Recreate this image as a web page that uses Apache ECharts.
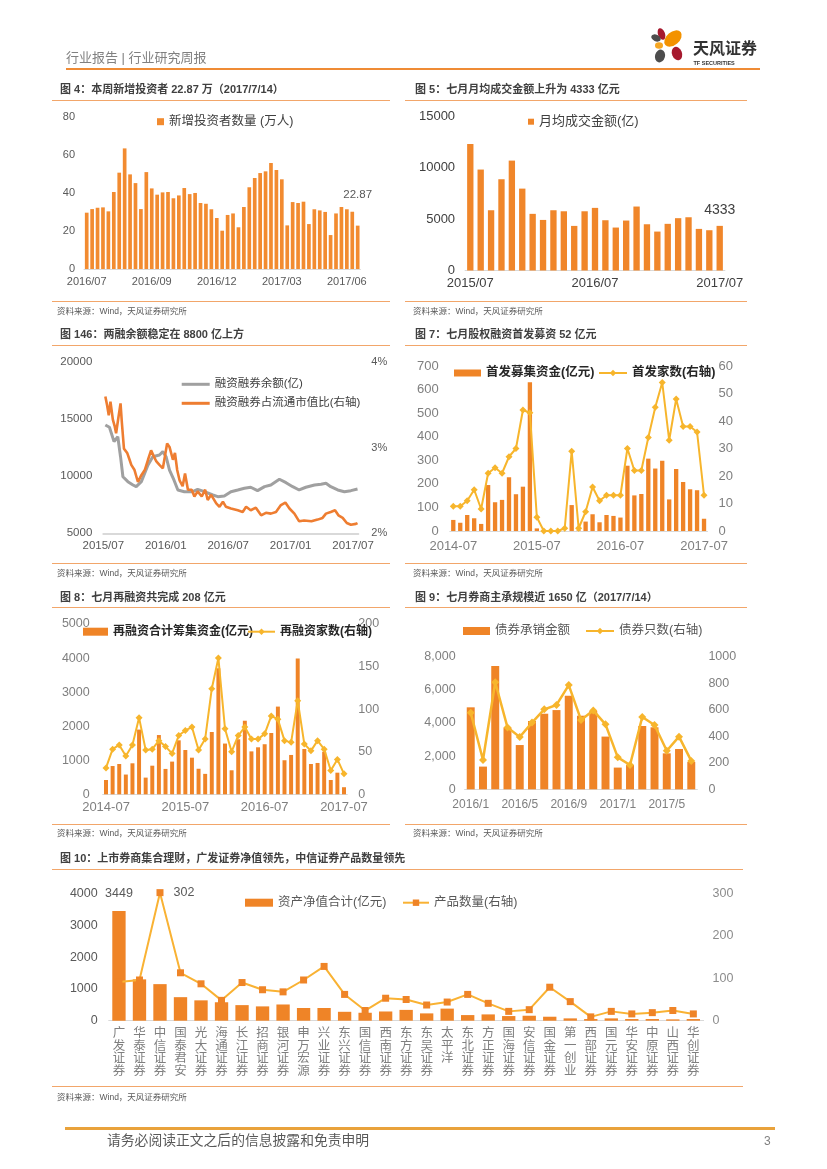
<!DOCTYPE html>
<html><head><meta charset="utf-8">
<script src="https://cdn.jsdelivr.net/npm/echarts@6/dist/echarts.min.js"></script>
<style>
html,body{margin:0;padding:0;background:#fff;}
#page{position:relative;width:827px;height:1169px;overflow:hidden;font-family:"Liberation Sans","Noto Sans CJK SC",sans-serif;}
#chart{position:absolute;left:0;top:0;width:827px;height:1169px;}
.t{position:absolute;white-space:nowrap;}
.ttl{font-size:11px;font-weight:bold;color:#404040;line-height:12px;}
.src{font-size:8.5px;color:#595959;line-height:11px;}
.hl{position:absolute;height:1px;background:#F2A66A;}
</style></head>
<body><div id="page">
<div id="chart"></div>

<div class="t" style="left:66px;top:49.5px;font-size:13px;line-height:15px;color:#808080;">行业报告 | 行业研究周报</div>
<div style="position:absolute;left:66px;top:68px;width:694px;height:2px;background:#EF8B35;"></div>
<svg style="position:absolute;left:646px;top:24px;" width="48" height="46" viewBox="0 0 48 46">
  <ellipse cx="15.5" cy="10" rx="3.5" ry="6" fill="#A6192E" transform="rotate(-20 15.5 10)"/>
  <ellipse cx="10" cy="14" rx="5" ry="3.3" fill="#4D4D4D" transform="rotate(25 10 14)"/>
  <ellipse cx="27" cy="14.5" rx="10" ry="6.5" fill="#F39200" transform="rotate(-40 27 14.5)"/>
  <ellipse cx="13" cy="21.5" rx="4" ry="3.3" fill="#F5A623"/>
  <ellipse cx="31" cy="29.5" rx="5" ry="7" fill="#A6192E" transform="rotate(-20 31 29.5)"/>
  <ellipse cx="14" cy="32" rx="5" ry="6.5" fill="#4D4D4D" transform="rotate(15 14 32)"/>
</svg>
<div class="t" style="left:693px;top:38px;font-size:16px;line-height:18px;font-weight:bold;color:#333;font-family:'Noto Sans CJK SC',sans-serif;">天风证券</div>
<div class="t" style="left:693.5px;top:60px;font-size:5.5px;line-height:6px;font-weight:bold;color:#333;">TF SECURITIES</div>

<div class="t ttl" style="left:60px;top:83px;">图 4：本周新增投资者 22.87 万（2017/7/14）</div>
<div class="t ttl" style="left:415px;top:83px;">图 5：七月月均成交金额上升为 4333 亿元</div>
<div class="hl" style="left:52px;top:100px;width:338px;"></div>
<div class="hl" style="left:405px;top:100px;width:342px;"></div>
<div class="hl" style="left:52px;top:301px;width:338px;"></div>
<div class="hl" style="left:405px;top:301px;width:342px;"></div>
<div class="t src" style="left:57px;top:305.5px;">资料来源：Wind，天风证券研究所</div>
<div class="t src" style="left:413px;top:305.5px;">资料来源：Wind，天风证券研究所</div>

<div class="t ttl" style="left:60px;top:328px;">图 146：两融余额稳定在 8800 亿上方</div>
<div class="t ttl" style="left:415px;top:328px;">图 7：七月股权融资首发募资 52 亿元</div>
<div class="hl" style="left:52px;top:344.5px;width:338px;"></div>
<div class="hl" style="left:405px;top:344.5px;width:342px;"></div>
<div class="hl" style="left:52px;top:562.5px;width:338px;"></div>
<div class="hl" style="left:405px;top:562.5px;width:342px;"></div>
<div class="t src" style="left:57px;top:568px;">资料来源：Wind，天风证券研究所</div>
<div class="t src" style="left:413px;top:568px;">资料来源：Wind，天风证券研究所</div>

<div class="t ttl" style="left:60px;top:590.5px;">图 8：七月再融资共完成 208 亿元</div>
<div class="t ttl" style="left:415px;top:590.5px;">图 9：七月券商主承规模近 1650 亿（2017/7/14）</div>
<div class="hl" style="left:52px;top:607px;width:338px;"></div>
<div class="hl" style="left:405px;top:607px;width:342px;"></div>
<div class="hl" style="left:52px;top:824px;width:338px;"></div>
<div class="hl" style="left:405px;top:824px;width:342px;"></div>
<div class="t src" style="left:57px;top:828px;">资料来源：Wind，天风证券研究所</div>
<div class="t src" style="left:413px;top:828px;">资料来源：Wind，天风证券研究所</div>

<div class="t ttl" style="left:60px;top:852px;">图 10：上市券商集合理财，广发证券净值领先，中信证券产品数量领先</div>
<div class="hl" style="left:52px;top:869px;width:691px;"></div>
<div class="hl" style="left:52px;top:1085.5px;width:691px;"></div>
<div class="t src" style="left:57px;top:1092px;">资料来源：Wind，天风证券研究所</div>

<div style="position:absolute;left:65px;top:1127px;width:710px;height:2.5px;background:#E9A23B;"></div>
<div class="t" style="left:107px;top:1133px;font-size:13.8px;line-height:16px;color:#595959;">请务必阅读正文之后的信息披露和免责申明</div>
<div class="t" style="left:764px;top:1134px;font-size:12px;line-height:14px;color:#808080;">3</div>
</div>

<script>
// ---------- 图4 新增投资者 ----------
const investorWeeks = ['2016/07/01','2016/07/08','2016/07/15','2016/07/22','2016/07/29','2016/08/05','2016/08/12','2016/08/19','2016/08/26','2016/09/02','2016/09/09','2016/09/16','2016/09/23','2016/09/30','2016/10/07','2016/10/14','2016/10/21','2016/10/28','2016/11/04','2016/11/11','2016/11/18','2016/11/25','2016/12/02','2016/12/09','2016/12/16','2016/12/23','2016/12/30','2017/01/06','2017/01/13','2017/01/20','2017/01/27','2017/02/03','2017/02/10','2017/02/17','2017/02/24','2017/03/03','2017/03/10','2017/03/17','2017/03/24','2017/03/31','2017/04/07','2017/04/14','2017/04/21','2017/04/28','2017/05/05','2017/05/12','2017/05/19','2017/05/26','2017/06/02','2017/06/09','2017/06/16'];
const investorNew = [29.7,31.6,32.3,32.5,30.4,40.6,50.8,63.6,49.9,45.3,31.6,51.1,42.5,39.2,40.4,40.6,37.3,38.8,42.7,39.5,40.1,34.8,34.4,31.5,26.9,20.2,28.5,29.3,22.0,32.7,43.1,48.0,50.6,51.5,55.9,52.2,47.3,23.0,35.3,34.8,35.5,23.7,31.5,30.9,30.1,17.9,29.3,32.7,31.5,30.2,22.87];

// ---------- 图5 月均成交金额 ----------
const turnoverMonths = ['2015/07','2015/08','2015/09','2015/10','2015/11','2015/12','2016/01','2016/02','2016/03','2016/04','2016/05','2016/06','2016/07','2016/08','2016/09','2016/10','2016/11','2016/12','2017/01','2017/02','2017/03','2017/04','2017/05','2017/06','2017/07'];
const turnoverAvg = [12280,9800,5850,8860,10670,7950,5500,4910,5850,5750,4330,5750,6080,4880,4170,4850,6210,4490,3780,4530,5080,5170,4040,3910,4333];

// ---------- 图146 两融 ----------
const marginDates = ['2015-07-07','2015-07-19','2015-08-02','2015-08-13','2015-08-21','2015-08-28','2015-09-12','2015-09-27','2015-10-06','2015-10-21','2015-11-10','2015-11-24','2015-12-13','2015-12-23','2016-01-02','2016-01-12','2016-01-25','2016-02-06','2016-02-25','2016-03-19','2016-04-03','2016-04-23','2016-05-17','2016-06-01','2016-06-20','2016-07-09','2016-07-29','2016-08-18','2016-09-06','2016-09-26','2016-10-16','2016-11-04','2016-11-29','2016-12-18','2017-01-07','2017-01-26','2017-02-15','2017-03-10','2017-03-29','2017-04-13','2017-04-27','2017-05-17','2017-06-06','2017-06-25','2017-07-14'];
const marginBalance = [14500,14300,13040,13470,11720,9960,9530,9240,9090,9530,10990,11720,11870,12160,11720,10550,9680,8800,8650,8650,8860,8650,8360,8210,8270,8650,8800,8950,9040,8740,9090,9240,9740,9440,9090,8800,9040,9240,9300,9390,9090,8800,8650,8740,8890];
const ratioDates = ['2015-07-07','2015-07-12','2015-07-17','2015-07-22','2015-07-29','2015-08-04','2015-08-08','2015-08-15','2015-08-21','2015-08-25','2015-08-31','2015-09-10','2015-09-17','2015-09-22','2015-10-01','2015-10-11','2015-10-21','2015-10-31','2015-11-10','2015-11-19','2015-11-27','2015-12-04','2015-12-13','2015-12-23','2015-12-29','2016-01-05','2016-01-12','2016-01-22','2016-01-28','2016-02-04','2016-02-11','2016-02-20','2016-02-27','2016-03-05','2016-03-16','2016-03-24','2016-04-03','2016-04-15','2016-04-25','2016-05-02','2016-05-12','2016-05-27','2016-06-06','2016-06-16','2016-06-25','2016-07-09','2016-07-29','2016-08-13','2016-08-23','2016-09-06','2016-09-21','2016-10-06','2016-10-20','2016-11-04','2016-11-19','2016-12-03','2016-12-16','2016-12-28','2017-01-12','2017-01-26','2017-02-10','2017-03-01','2017-03-19','2017-04-03','2017-04-13','2017-04-27','2017-05-09','2017-05-19','2017-06-01','2017-06-13','2017-06-25','2017-07-09','2017-07-14'];
const ratioPct = [3.60,3.50,3.38,3.54,3.33,3.25,3.17,3.36,3.52,3.29,2.99,2.94,2.86,2.80,2.74,2.60,2.68,2.74,2.86,2.97,2.90,2.84,2.80,2.76,2.90,3.05,3.01,2.86,2.94,2.74,2.62,2.55,2.70,2.51,2.51,2.43,2.49,2.43,2.51,2.39,2.45,2.35,2.31,2.37,2.31,2.29,2.27,2.25,2.31,2.27,2.30,2.21,2.24,2.23,2.25,2.33,2.36,2.29,2.23,2.14,2.15,2.14,2.16,2.18,2.23,2.25,2.27,2.21,2.18,2.12,2.10,2.11,2.12];

// ---------- 图7 首发 ----------
const ipoMonths = ['2014-07','2014-08','2014-09','2014-10','2014-11','2014-12','2015-01','2015-02','2015-03','2015-04','2015-05','2015-06','2015-07','2015-08','2015-09','2015-10','2015-11','2015-12','2016-01','2016-02','2016-03','2016-04','2016-05','2016-06','2016-07','2016-08','2016-09','2016-10','2016-11','2016-12','2017-01','2017-02','2017-03','2017-04','2017-05','2017-06','2017-07'];
const ipoAmount = [47,35,68,54,30,195,122,132,228,156,188,631,11,0,0,0,0,110,3,40,71,37,68,64,57,277,151,157,307,265,298,134,263,208,177,173,52];
const ipoCount = [9,9,11,15,8,21,23,21,27,30,44,43,5,0,0,0,1,29,1,7,16,11,13,13,13,30,22,22,34,45,54,33,48,38,38,36,13];

// ---------- 图8 再融资 ----------
const refiMonths = ['2014-07','2014-08','2014-09','2014-10','2014-11','2014-12','2015-01','2015-02','2015-03','2015-04','2015-05','2015-06','2015-07','2015-08','2015-09','2015-10','2015-11','2015-12','2016-01','2016-02','2016-03','2016-04','2016-05','2016-06','2016-07','2016-08','2016-09','2016-10','2016-11','2016-12','2017-01','2017-02','2017-03','2017-04','2017-05','2017-06','2017-07'];
const refiAmount = [420,830,890,580,910,1900,490,840,1740,745,960,1585,1300,1075,750,600,1830,3700,1490,705,1615,2160,1260,1380,1470,1800,2575,1000,1155,3990,1330,890,920,1250,420,635,208];
const refiCount = [31,53,58,45,58,90,52,53,63,56,48,69,75,79,52,65,124,160,77,50,69,79,65,65,71,92,88,63,61,110,59,51,63,53,28,41,24];

// ---------- 图9 债券承销 ----------
const bondMonths = ['2016/1','2016/2','2016/3','2016/4','2016/5','2016/6','2016/7','2016/8','2016/9','2016/10','2016/11','2016/12','2017/1','2017/2','2017/3','2017/4','2017/5','2017/6','2017/7'];
const bondAmount = [4945,1370,7440,3720,2670,4120,4560,4780,5650,4440,4720,3180,1310,1470,3820,3740,2170,2430,1650];
const bondCount = [578,221,807,467,394,503,603,636,786,523,595,490,241,183,545,485,291,397,214];

// ---------- 图10 集合理财 ----------
const brokerNames = ['广发证券','华泰证券','中信证券','国泰君安','光大证券','海通证券','长江证券','招商证券','银河证券','申万宏源','兴业证券','东兴证券','国信证券','西南证券','东方证券','东吴证券','太平洋','东北证券','方正证券','国海证券','安信证券','国金证券','第一创业','西部证券','国元证券','华安证券','中原证券','山西证券','华创证券'];
const brokerNetAsset = [3449,1300,1150,740,640,580,490,450,510,400,400,280,250,290,340,230,380,177,198,146,156,125,73,52,73,52,52,42,52];
const brokerProducts = [91,96,302,113,87,48,90,73,68,96,128,62,24,53,50,37,44,62,41,22,26,79,45,9,22,16,19,24,16];

// ---------------------------------------------------------
const FF = '"Liberation Sans","Noto Sans CJK SC",sans-serif';
const ORANGE = '#EF8427';
const GOLD = '#F7B52C';
function monthOffset(d){const p=d.split('-').map(Number);return (p[0]-2015)*12+(p[1]-7)+(p[2]-1)/30.5;}
function monthLabel(m){if(Math.abs(m%6)>1e-6)return '';const t=2015*12+6+m;const y=Math.floor(t/12);const mo=t%12+1;return y+'/'+(mo<10?'0':'')+mo;}

function lab(size,color,margin,extra){return Object.assign({fontFamily:FF,fontSize:size,color:color,margin:margin,formatter:v=>String(v)},extra||{});}
function xCat(grid,data,label,lineShow){
  return {type:'category',gridIndex:grid,data:data,boundaryGap:true,
    axisLine:{show:lineShow!==false,lineStyle:{color:'#D9D9D9',width:1}},axisTick:{show:false},
    splitLine:{show:false},axisLabel:label};
}
function yVal(grid,pos,min,max,interval,label){
  return {type:'value',gridIndex:grid,position:pos,min:min,max:max,interval:interval,
    axisLine:{show:false},axisTick:{show:false},splitLine:{show:false},axisLabel:label};
}
function leg(name,left,cy,o){
  const fs=o.fontSize||12.5;
  return {data:[name],left:left,top:cy-8,padding:0,itemWidth:o.w||28,itemHeight:o.h||8,
    icon:o.icon,selectedMode:false,itemGap:0,
    textStyle:{fontFamily:FF,fontSize:fs,lineHeight:16,color:o.color||'#404040',fontWeight:o.bold?'bold':'normal',padding:[0,0,0,o.tp||0]}};
}

const chart = echarts.init(document.getElementById('chart'),null,{renderer:'canvas'});
const option = {
  animation:false,
  textStyle:{fontFamily:FF},
  grid:[
    {left:84,top:117.3,width:276.4,height:151.7,containLabel:false,outerBoundsMode:'none'},
    {left:465.1,top:116,width:259.8,height:154.5,containLabel:false,outerBoundsMode:'none'},
    {left:103.3,top:362.3,width:255,height:171,containLabel:false,outerBoundsMode:'none'},
    {left:449.8,top:366,width:257.7,height:165,containLabel:false,outerBoundsMode:'none'},
    {left:102.7,top:624,width:244.6,height:170.3,containLabel:false,outerBoundsMode:'none'},
    {left:464.6,top:656.7,width:232.8,height:132.6,containLabel:false,outerBoundsMode:'none'},
    {left:108.7,top:893.5,width:594.9,height:127.2,containLabel:false,outerBoundsMode:'none'}
  ],
  xAxis:[
    xCat(0,investorWeeks,lab(11,'#595959',7,{interval:11,formatter:v=>v.slice(0,7)})),
    xCat(1,turnoverMonths,lab(13,'#404040',6,{interval:11})),
    {type:'value',gridIndex:2,min:0,max:24.5,interval:6,
      axisLine:{show:true,lineStyle:{color:'#D9D9D9',width:2}},axisTick:{show:false},splitLine:{show:false},
      axisLabel:lab(11.5,'#595959',7,{formatter:monthLabel,showMaxLabel:false})},
    xCat(3,ipoMonths,lab(13,'#7F7F7F',9,{interval:11})),
    xCat(4,refiMonths,lab(13,'#7F7F7F',7,{interval:11})),
    xCat(5,bondMonths,lab(12,'#7F7F7F',9,{interval:3})),
    xCat(6,brokerNames,lab(12.5,'#7F7F7F',7,{interval:0,lineHeight:12.4,formatter:v=>v.split('').join('\n')}))
  ],
  yAxis:[
    yVal(0,'left',0,80,20,lab(11,'#595959',9)),
    yVal(1,'left',0,15000,5000,lab(13,'#404040',10)),
    yVal(2,'left',5000,20000,5000,lab(11.5,'#595959',11)),
    yVal(2,'right',2,4,1,lab(11,'#595959',13,{formatter:v=>v+'%'})),
    yVal(3,'left',0,700,100,lab(13,'#7F7F7F',11)),
    yVal(3,'right',0,60,10,lab(13,'#7F7F7F',11)),
    yVal(4,'left',0,5000,1000,lab(12.5,'#7F7F7F',13)),
    yVal(4,'right',0,200,50,lab(12.5,'#7F7F7F',11)),
    yVal(5,'left',0,8000,2000,lab(12.5,'#7F7F7F',9,{formatter:v=>v.toLocaleString('en-US')})),
    yVal(5,'right',0,1000,200,lab(12.5,'#7F7F7F',11)),
    yVal(6,'left',0,4000,1000,lab(12.5,'#595959',11)),
    yVal(6,'right',0,300,100,lab(12.5,'#8C8C8C',9))
  ],
  legend:[
    leg('新增投资者数量 (万人)',157,121.7,{icon:'rect',w:7,h:7,fontSize:12.5,color:'#404040'}),
    leg('月均成交金额(亿)',528,121.7,{icon:'rect',w:6,h:6,fontSize:13,color:'#404040'}),
    leg('融资融券余额(亿)',181.7,384.3,{icon:'rect',w:28,h:3,fontSize:11.5,color:'#404040'}),
    leg('融资融券占流通市值比(右轴)',181.7,403.3,{icon:'rect',w:28,h:3,fontSize:11.5,color:'#404040'}),
    leg('首发募集资金(亿元)',454,373,{icon:'rect',w:27,h:7,fontSize:12.5,color:'#262626',bold:true}),
    leg('首发家数(右轴)',598,373,{w:28,h:8,fontSize:12.5,color:'#262626',bold:true}),
    leg('再融资合计筹集资金(亿元)',83,631.7,{icon:'rect',w:25,h:8,fontSize:12,color:'#262626',bold:true}),
    leg('再融资家数(右轴)',247,631.7,{w:27,h:8,fontSize:12,color:'#262626',bold:true}),
    leg('债券承销金额',463,631,{icon:'rect',w:27,h:8,fontSize:12.5,color:'#595959'}),
    leg('债券只数(右轴)',585,631,{w:28,h:8,fontSize:12.5,color:'#595959'}),
    leg('资产净值合计(亿元)',245,902.7,{icon:'rect',w:28,h:8,fontSize:12.5,color:'#595959'}),
    leg('产品数量(右轴)',402,902.7,{w:26,h:8,fontSize:12.5,color:'#595959'})
  ],
  series:[
    {name:'新增投资者数量 (万人)',type:'bar',xAxisIndex:0,yAxisIndex:0,barWidth:'68%',itemStyle:{color:'#F28B30'},
      data:investorNew.map((v,i)=>i===investorNew.length-1?{value:v,label:{show:true,position:'top',offset:[0,-20],fontFamily:FF,fontSize:11.5,color:'#595959'}}:v)},
    {name:'月均成交金额(亿)',type:'bar',xAxisIndex:1,yAxisIndex:1,barWidth:'61%',itemStyle:{color:'#F0862A'},
      data:turnoverAvg.map((v,i)=>i===turnoverAvg.length-1?{value:v,label:{show:true,position:'top',offset:[0,-4],fontFamily:FF,fontSize:14,color:'#404040'}}:v)},
    {name:'融资融券余额(亿)',type:'line',xAxisIndex:2,yAxisIndex:2,symbol:'none',
      itemStyle:{color:'#A0A0A0'},lineStyle:{color:'#A0A0A0',width:3},
      data:marginDates.map((d,i)=>[monthOffset(d),marginBalance[i]])},
    {name:'融资融券占流通市值比(右轴)',type:'line',xAxisIndex:2,yAxisIndex:3,symbol:'none',
      itemStyle:{color:'#EE7D31'},lineStyle:{color:'#EE7D31',width:2.6},
      data:ratioDates.map((d,i)=>[monthOffset(d),ratioPct[i]])},
    {name:'首发募集资金(亿元)',type:'bar',xAxisIndex:3,yAxisIndex:4,barWidth:'62%',itemStyle:{color:ORANGE},data:ipoAmount},
    {name:'首发家数(右轴)',type:'line',xAxisIndex:3,yAxisIndex:5,symbol:'diamond',symbolSize:7,showSymbol:true,showAllSymbol:true,
      itemStyle:{color:GOLD},lineStyle:{color:GOLD,width:2},data:ipoCount},
    {name:'再融资合计筹集资金(亿元)',type:'bar',xAxisIndex:4,yAxisIndex:6,barWidth:'60%',itemStyle:{color:ORANGE},data:refiAmount},
    {name:'再融资家数(右轴)',type:'line',xAxisIndex:4,yAxisIndex:7,symbol:'diamond',symbolSize:7,showSymbol:true,showAllSymbol:true,
      itemStyle:{color:GOLD},lineStyle:{color:GOLD,width:2},data:refiCount},
    {name:'债券承销金额',type:'bar',xAxisIndex:5,yAxisIndex:8,barWidth:'65%',itemStyle:{color:ORANGE},data:bondAmount},
    {name:'债券只数(右轴)',type:'line',xAxisIndex:5,yAxisIndex:9,symbol:'diamond',symbolSize:8,showSymbol:true,showAllSymbol:true,
      itemStyle:{color:GOLD},lineStyle:{color:GOLD,width:2.5},data:bondCount},
    {name:'资产净值合计(亿元)',type:'bar',xAxisIndex:6,yAxisIndex:10,barWidth:'65%',itemStyle:{color:ORANGE},
      data:brokerNetAsset.map((v,i)=>i===0?{value:v,label:{show:true,position:'top',offset:[0,-6],fontFamily:FF,fontSize:12.5,color:'#595959'}}:v)},
    {name:'产品数量(右轴)',type:'line',xAxisIndex:6,yAxisIndex:11,symbol:'rect',symbolSize:7,showSymbol:true,showAllSymbol:true,clip:false,
      itemStyle:{color:ORANGE},lineStyle:{color:'#F9B233',width:2},
      data:brokerProducts.map((v,i)=>v===Math.max(...brokerProducts)?{value:v,label:{show:true,position:'right',distance:10,fontFamily:FF,fontSize:12.5,color:'#595959'}}:v)}
  ]
};
chart.setOption(option);
</script>
</body></html>
